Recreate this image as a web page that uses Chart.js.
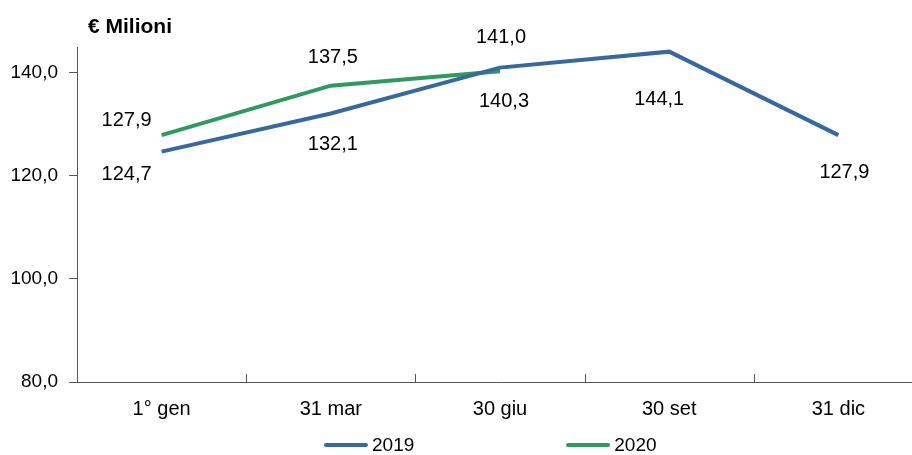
<!DOCTYPE html>
<html>
<head>
<meta charset="utf-8">
<script src="https://cdn.jsdelivr.net/npm/chart.js@4.4.0/dist/chart.umd.min.js"></script>
<style>
  body { margin: 0; overflow: hidden; background: #fff; font-family: "Liberation Sans", Arial, sans-serif; }
  #wrap { position: relative; width: 923px; height: 455px; }
  #legend { position: absolute; top: 434px; left: 324px; display: flex; gap: 152px; font-size: 19px; color: #000; }
  #legend .item { display: flex; align-items: center; gap: 4px; }
  #legend .swatch { width: 44px; height: 4px; border-radius: 2px; }
</style>
</head>
<body>
<div id="wrap">
  <canvas id="chart"></canvas>
  <div id="legend"></div>
</div>
<script>
var categories = ['1° gen', '31 mar', '30 giu', '30 set', '31 dic']
var values2019 = [124.7, 132.1, 141.0, 144.1, 127.9]
var values2020 = [127.9, 137.5, 140.3, null, null]
var yTicks = [80, 100, 120, 140]

// where each value label sits, relative to its point (px)
var labelOffsets = [
  [[-35, 23], [2, 31], [1, -30], [-10, 48], [6, 37]],
  [[-35, -15], [2, -28], [4, 30]]
]

function fmt(v) { return v.toFixed(1).replace('.', ',') }

var valueLabels = {
  id: 'valueLabels',
  afterDatasetsDraw: function (chart) {
    var ctx = chart.ctx
    ctx.save()
    ctx.font = '20px "Liberation Sans", Arial, sans-serif'
    ctx.fillStyle = '#000'
    ctx.textAlign = 'center'
    ctx.textBaseline = 'middle'
    chart.data.datasets.forEach(function (ds, di) {
      var meta = chart.getDatasetMeta(di)
      meta.data.forEach(function (pt, i) {
        var v = ds.data[i]
        if (v == null) return
        var off = labelOffsets[di][i]
        ctx.fillText(fmt(v), pt.x + off[0], pt.y + off[1])
      })
    })
    ctx.restore()
  }
}

var extras = {
  id: 'extras',
  afterDraw: function (chart) {
    var ctx = chart.ctx
    var area = chart.chartArea
    var x = chart.scales.x
    ctx.save()
    // small inward tick marks between categories
    ctx.strokeStyle = '#555'
    ctx.lineWidth = 1
    for (var i = 1; i < categories.length; i++) {
      var px = Math.round((x.getPixelForTick(i - 1) + x.getPixelForTick(i)) / 2) + 0.5
      ctx.beginPath()
      ctx.moveTo(px, area.bottom - 8)
      ctx.lineTo(px, area.bottom)
      ctx.stroke()
    }
    // unit title
    ctx.font = 'bold 21px "Liberation Sans", Arial, sans-serif'
    ctx.fillStyle = '#000'
    ctx.textAlign = 'left'
    ctx.textBaseline = 'alphabetic'
    ctx.fillText('€ Milioni', area.left + 11, area.top - 14)
    ctx.restore()
  }
}

var lineChart = new Chart(document.getElementById('chart').getContext('2d'), {
  type: 'line',
  data: {
    labels: categories,
    datasets: [
      {
        label: '2019',
        data: values2019,
        borderColor: '#37699c',
        backgroundColor: '#37699c',
        borderWidth: 4,
        pointRadius: 0,
        tension: 0,
        fill: false
      },
      {
        label: '2020',
        data: values2020,
        borderColor: '#31995f',
        backgroundColor: '#31995f',
        borderWidth: 4,
        pointRadius: 0,
        tension: 0,
        fill: false,
        spanGaps: false
      }
    ]
  },
  options: {
    responsive: true,
    maintainAspectRatio: false,
    animation: false,
    layout: { padding: { top: 47, bottom: 19, left: 0, right: 0 } },
    plugins: {
      legend: { display: false },
      tooltip: { enabled: false }
    },
    scales: {
      x: {
        offset: true,
        grid: { display: false, drawOnChartArea: false, drawTicks: false },
        border: { display: true, color: '#555', width: 1 },
        ticks: { color: '#000', padding: 15, font: { size: 20, family: '"Liberation Sans", Arial, sans-serif' } }
      },
      y: {
        min: 80,
        max: 145,
        afterBuildTicks: function (scale) {
          scale.ticks = yTicks.map(function (v) { return { value: v } })
        },
        afterFit: function (scale) { scale.width = 77 },
        grid: { drawOnChartArea: false, drawTicks: true, tickLength: 8, color: '#555' },
        border: { display: true, color: '#555', width: 1 },
        ticks: {
          color: '#000',
          padding: 11,
          font: { size: 19, family: '"Liberation Sans", Arial, sans-serif' },
          callback: function (v) { return fmt(v) }
        }
      }
    }
  },
  plugins: [valueLabels, extras]
})

// legend below the axis
var legendEl = document.getElementById('legend')
lineChart.data.datasets.forEach(function (ds) {
  var item = document.createElement('div')
  item.className = 'item'
  var sw = document.createElement('span')
  sw.className = 'swatch'
  sw.style.background = ds.borderColor
  var txt = document.createElement('span')
  txt.textContent = ds.label
  item.appendChild(sw)
  item.appendChild(txt)
  legendEl.appendChild(item)
})
</script>
</body>
</html>
